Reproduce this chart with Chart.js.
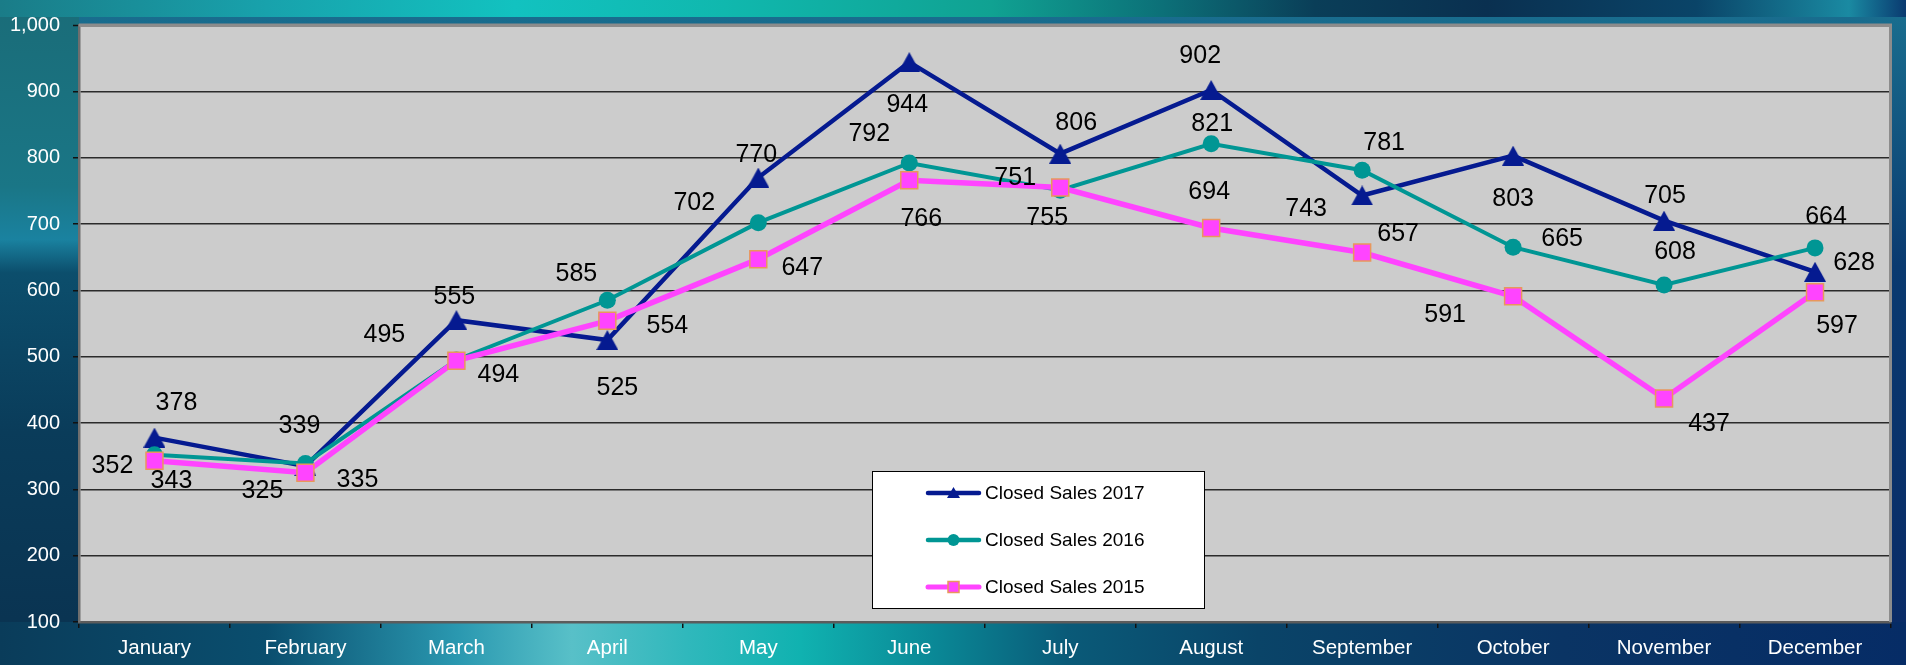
<!DOCTYPE html>
<html>
<head>
<meta charset="utf-8">
<script src="https://cdn.jsdelivr.net/npm/chart.js@4/dist/chart.umd.min.js"></script>
<style>
  html, body { margin: 0; padding: 0; }
  body {
    width: 1906px; height: 665px; overflow: hidden;
    background:
      linear-gradient(to right, #1a7c88 0%, #18a2ac 14%, #12c2c0 27%, #10b8ae 38%, #10a292 52%, #0c7078 61%, #0a3e58 69%, #0a3050 78%, #0a4468 89%, #1a8aa2 97%, #0a3a70 100%) top left / 100% 17px no-repeat,
      linear-gradient(to right, #0a3c5a 0%, #0a4e6e 14%, #2a98b0 24%, #58c0c8 30%, #30b8bc 36%, #10b2b0 42%, #0a8896 49%, #0a5a78 56%, #0a4468 66%, #0a3464 82%, #062c66 100%) bottom left / 100% 43px no-repeat,
      linear-gradient(to bottom, #1a6c78 0%, #1a7686 28%, #1a82a0 36%, #0c4e6c 41%, #0a3c5a 65%, #0a3250 100%) top left / 79px 100% no-repeat,
      linear-gradient(to bottom, #1a7090 0%, #0a3a70 40%, #0a2a66 100%);
  }
  canvas { display: block; }
</style>
</head>
<body>
<canvas id="c" width="1906" height="665"></canvas>
<script>
const months = ['January','February','March','April','May','June','July','August','September','October','November','December'];
const sales2017 = [378, 335, 555, 525, 770, 944, 806, 902, 743, 803, 705, 628];
const sales2016 = [352, 339, 495, 585, 702, 792, 751, 821, 781, 665, 608, 664];
const sales2015 = [343, 325, 494, 554, 647, 766, 755, 694, 657, 591, 437, 597];
const seriesNames = ['Closed Sales 2017', 'Closed Sales 2016', 'Closed Sales 2015'];
const yTicks = { min: 100, max: 1000, step: 100 };

// data label placement (offset of label centre from its point, in px)
const labelOffsets2017 = [[22,-35],[52,13],[-2,-24],[10,47],[-2,-23],[-2,42],[16,-32],[-11,-35],[-56,13],[0,42],[1,-26],[39,-10]];
const labelOffsets2016 = [[-42,10],[-6,-38],[-72,-26],[-31,-27],[-64,-21],[-40,-30],[-45,-13],[1,-21],[22,-28],[49,-9],[11,-34],[11,-32]];
const labelOffsets2015 = [[17,19],[-43,17],[42,13],[60,4],[44,8],[12,38],[-13,30],[-2,-37],[36,-19],[-68,18],[45,25],[22,33]];

const FONT = "'Liberation Sans', Arial, Helvetica, sans-serif";
const NAVY = '#051a90';
const TEAL = '#009694';
const PINK = '#ff44ff';
const ORANGE = '#e8975c';

function makeTriangle(w, h, color) {
  const c = document.createElement('canvas');
  c.width = w; c.height = h;
  const g = c.getContext('2d');
  g.fillStyle = color;
  g.beginPath();
  g.moveTo(w / 2, 0);
  g.lineTo(w, h);
  g.lineTo(0, h);
  g.closePath();
  g.fill();
  return c;
}
const triBig = makeTriangle(22, 20, NAVY);

const plotBg = {
  id: 'plotBg',
  beforeDraw(chart) {
    const { ctx, chartArea: a } = chart;
    ctx.save();
    ctx.fillStyle = '#cccccc';
    ctx.fillRect(a.left, a.top, a.right - a.left, a.bottom - a.top);
    ctx.restore();
  },
  afterDraw(chart) {
    const { ctx, chartArea: a } = chart;
    ctx.save();
    ctx.strokeStyle = '#8c8c8c';
    ctx.lineWidth = 3;
    ctx.beginPath();
    ctx.moveTo(a.left, a.top);
    ctx.lineTo(a.right, a.top);
    ctx.lineTo(a.right, a.bottom);
    ctx.stroke();
    ctx.restore();
  }
};

const dataLabels = {
  id: 'dataLabels',
  afterDatasetsDraw(chart) {
    const offs = [labelOffsets2017, labelOffsets2016, labelOffsets2015];
    const { ctx } = chart;
    ctx.save();
    ctx.font = '25px ' + FONT;
    ctx.fillStyle = '#000';
    ctx.textAlign = 'center';
    ctx.textBaseline = 'middle';
    chart.data.datasets.forEach((ds, di) => {
      const meta = chart.getDatasetMeta(di);
      meta.data.forEach((pt, i) => {
        const o = offs[di][i];
        ctx.fillText(String(ds.data[i]), pt.x + o[0], pt.y + o[1] + 1);
      });
    });
    ctx.restore();
  }
};

const boxLegend = {
  id: 'boxLegend',
  afterDraw(chart) {
    const { ctx } = chart;
    const x0 = 872, y0 = 471, w = 333, h = 138;
    ctx.save();
    ctx.fillStyle = '#ffffff';
    ctx.fillRect(x0, y0, w, h);
    ctx.strokeStyle = '#000';
    ctx.lineWidth = 1;
    ctx.strokeRect(x0 + 0.5, y0 + 0.5, w - 1, h - 1);
    const rows = [493, 540, 587];
    const styles = [
      { color: NAVY, lw: 4.5, kind: 'tri' },
      { color: TEAL, lw: 4.5, kind: 'circ' },
      { color: PINK, lw: 5, kind: 'sq' }
    ];
    rows.forEach((ry, i) => {
      const s = styles[i];
      ctx.strokeStyle = s.color;
      ctx.lineWidth = s.lw;
      ctx.lineCap = 'round';
      ctx.beginPath();
      ctx.moveTo(928, ry);
      ctx.lineTo(979, ry);
      ctx.stroke();
      const cx = 953.5;
      if (s.kind === 'tri') {
        ctx.fillStyle = NAVY;
        ctx.beginPath();
        ctx.moveTo(cx, ry - 6);
        ctx.lineTo(cx + 6.5, ry + 5);
        ctx.lineTo(cx - 6.5, ry + 5);
        ctx.closePath();
        ctx.fill();
      } else if (s.kind === 'circ') {
        ctx.fillStyle = TEAL;
        ctx.beginPath();
        ctx.arc(cx, ry, 6, 0, Math.PI * 2);
        ctx.fill();
      } else {
        ctx.fillStyle = PINK;
        ctx.fillRect(cx - 5.5, ry - 5.5, 11, 11);
        ctx.strokeStyle = ORANGE;
        ctx.lineWidth = 1.5;
        ctx.strokeRect(cx - 5.5, ry - 5.5, 11, 11);
      }
      ctx.fillStyle = '#000';
      ctx.font = '19px ' + FONT;
      ctx.textAlign = 'left';
      ctx.textBaseline = 'middle';
      ctx.fillText(seriesNames[i], 985, ry + 1);
    });
    ctx.restore();
  }
};

new Chart(document.getElementById('c'), {
  type: 'line',
  data: {
    labels: months,
    datasets: [
      {
        label: seriesNames[0], data: sales2017, order: 3,
        borderColor: NAVY, backgroundColor: NAVY, borderWidth: 4.5,
        pointStyle: triBig, pointRadius: 11, pointHoverRadius: 11,
        tension: 0, fill: false
      },
      {
        label: seriesNames[1], data: sales2016, order: 2,
        borderColor: TEAL, backgroundColor: TEAL, borderWidth: 4,
        pointStyle: 'circle', pointRadius: 8.5, pointHoverRadius: 8.5,
        pointBackgroundColor: TEAL, pointBorderColor: TEAL, pointBorderWidth: 0,
        tension: 0, fill: false
      },
      {
        label: seriesNames[2], data: sales2015, order: 1,
        borderColor: PINK, backgroundColor: PINK, borderWidth: 5.5,
        pointStyle: 'rect', pointRadius: 12, pointHoverRadius: 12,
        pointBackgroundColor: PINK, pointBorderColor: ORANGE, pointBorderWidth: 1.5,
        tension: 0, fill: false
      }
    ]
  },
  options: {
    responsive: false,
    devicePixelRatio: 1,
    animation: false,
    layout: { padding: { top: 17, right: 8, left: 0, bottom: 0 } },
    plugins: { legend: { display: false }, tooltip: { enabled: false } },
    scales: {
      x: {
        offset: true,
        afterFit(s) { s.height = 43; },
        grid: { display: true, drawOnChartArea: false, offset: true, drawTicks: true, tickLength: 6, color: '#111', lineWidth: 1.5 },
        border: { display: true, color: '#5c5c5c', width: 2.5 },
        ticks: { color: '#ffffff', font: { family: FONT, size: 20.5 }, padding: 8, maxRotation: 0, autoSkip: false }
      },
      y: {
        min: yTicks.min, max: yTicks.max,
        afterFit(s) { s.width = 79; },
        grid: {
          drawTicks: true, tickLength: 6, tickColor: '#111', tickWidth: 1.5,
          color: (c) => (c.tick && c.tick.value === yTicks.max) ? '#8c8c8c' : '#2a2a2a',
          lineWidth: (c) => (c.tick && c.tick.value === yTicks.max) ? 3 : 1.5
        },
        border: { display: true, color: '#6e6e6e', width: 2.5 },
        ticks: {
          stepSize: yTicks.step, color: '#ffffff', padding: 13,
          font: { family: FONT, size: 20 },
          callback: (v) => v.toLocaleString('en-US')
        }
      }
    }
  },
  plugins: [plotBg, dataLabels, boxLegend]
});
</script>
</body>
</html>
